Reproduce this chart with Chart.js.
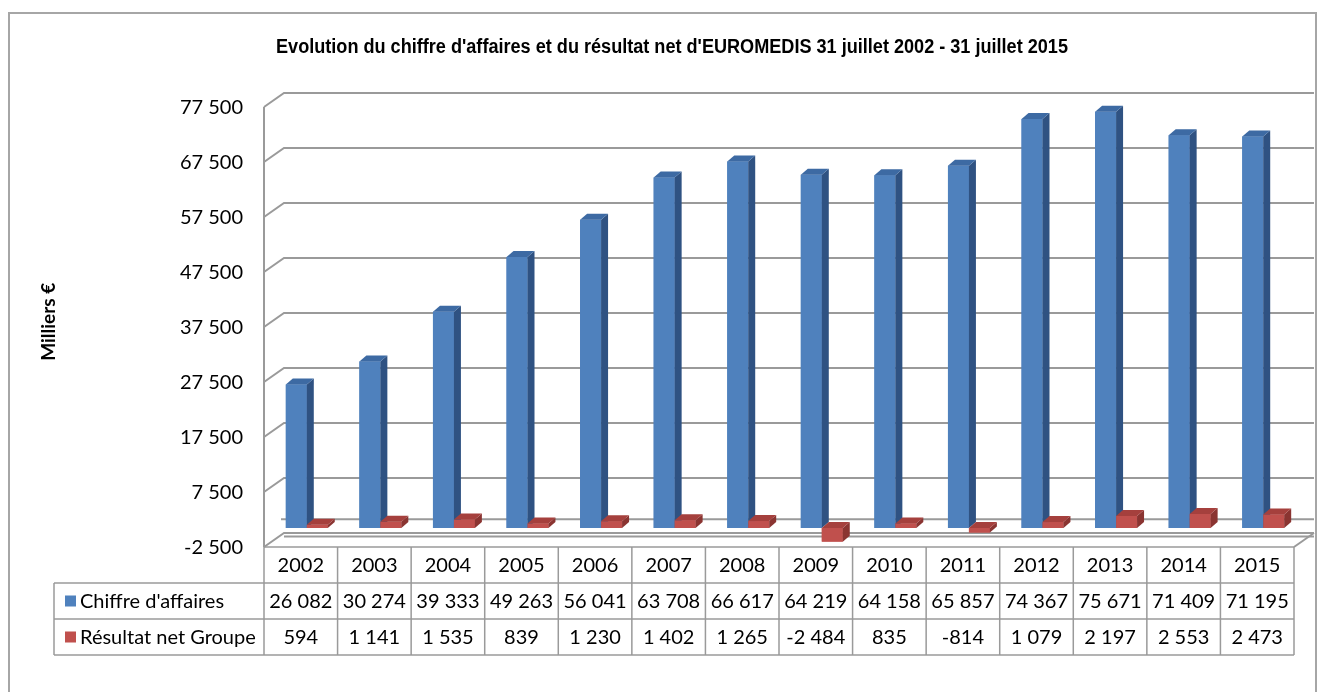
<!DOCTYPE html>
<html>
<head>
<meta charset="utf-8">
<script src="https://cdn.jsdelivr.net/npm/chart.js@4.4.0/dist/chart.umd.min.js"></script>
<style>
html,body{margin:0;padding:0;background:#ffffff;}
canvas{display:block;}
</style>
</head>
<body>
<canvas id="c" width="1324" height="692"></canvas>
<script>
// ---------- data ----------
const years = ['2002','2003','2004','2005','2006','2007','2008','2009','2010','2011','2012','2013','2014','2015'];
const chiffreAffaires = [26082, 30274, 39333, 49263, 56041, 63708, 66617, 64219, 64158, 65857, 74367, 75671, 71409, 71195];
const resultatNet = [594, 1141, 1535, 839, 1230, 1402, 1265, -2484, 835, -814, 1079, 2197, 2553, 2473];
const seriesNames = ["Chiffre d'affaires", "Résultat net Groupe"];
const yTickValues = [-2500, 7500, 17500, 27500, 37500, 47500, 57500, 67500, 77500];
const chartTitle = "Evolution du chiffre d'affaires et du résultat net d'EUROMEDIS 31 juillet 2002 - 31 juillet 2015";
const yAxisTitle = "Milliers €";

// ---------- styling ----------
const FONT = 'Lato, "Open Sans", sans-serif';
const TXT = 20;
const GRID = '#9a9a9a';
const FRONT = {dx: -6, dy: 5.25};   // front plane offset from bar plane
const BACK = {dx: 14, dy: -8.75};   // back wall offset from bar plane
const BAR_DEPTH = {dx: 7, dy: 6};

function fmt(v) {
  const s = Math.abs(Math.round(v)).toString().replace(/\B(?=(\d{3})+(?!\d))/g, '\u00A0');
  return (v < 0 ? '-' : '') + s;
}

const wallsPlugin = {
  id: 'walls',
  beforeDraw(chart) {
    const ctx = chart.ctx;
    ctx.save();
    ctx.fillStyle = '#ffffff';
    ctx.fillRect(0, 0, chart.width, chart.height);
    ctx.strokeStyle = '#a6a6a6';
    ctx.lineWidth = 2;
    ctx.strokeRect(9, 13, 1307, 700);
    // title (Arial-like bold, horizontally condensed like Arial Narrow)
    ctx.font = 'bold 20px "Liberation Sans", Arial, sans-serif';
    const w = ctx.measureText(chartTitle).width;
    const sx = 792 / w;
    ctx.translate(672, 47);
    ctx.scale(sx, 1);
    ctx.fillStyle = '#000';
    ctx.textAlign = 'center';
    ctx.textBaseline = 'middle';
    ctx.fillText(chartTitle, 0, 0);
    ctx.restore();
  },
  beforeDatasetsDraw(chart) {
    const ctx = chart.ctx;
    const ys = chart.scales.y;
    const ca = chart.chartArea;
    const fl = ca.left + FRONT.dx, fr = ca.right + FRONT.dx;
    const bl = ca.left + BACK.dx, br = ca.right + BACK.dx;
    ctx.save();
    ctx.strokeStyle = GRID;
    ctx.lineWidth = 2;
    ctx.lineCap = 'butt';
    ys.ticks.forEach(t => {
      const yb = ys.getPixelForValue(t.value);
      ctx.beginPath();
      ctx.moveTo(fl, yb + FRONT.dy);
      ctx.lineTo(bl, yb + BACK.dy);
      ctx.lineTo(br, yb + BACK.dy);
      ctx.stroke();
    });
    const y0 = ys.getPixelForValue(0);
    ctx.beginPath();
    ctx.moveTo(bl - 3, y0 + BACK.dy);
    ctx.lineTo(br, y0 + BACK.dy);
    ctx.stroke();
    const ymin = ys.getPixelForValue(ys.min);
    ctx.beginPath();
    ctx.moveTo(bl, ymin + BACK.dy + 3.5);
    ctx.lineTo(br, ymin + BACK.dy + 3.5);
    ctx.stroke();
    ctx.beginPath();
    ctx.moveTo(fr, ymin + FRONT.dy);
    ctx.lineTo(br, ymin + BACK.dy);
    ctx.stroke();
    const ymax = ys.getPixelForValue(ys.max);
    ctx.beginPath();
    ctx.moveTo(fl, ymax + FRONT.dy);
    ctx.lineTo(fl, ymin + FRONT.dy);
    ctx.stroke();
    ctx.restore();
  },
  afterDatasetsDraw(chart) {
    const ctx = chart.ctx;
    const n = years.length;
    for (let i = 0; i < n; i++) {
      chart.data.datasets.forEach((ds, di) => {
        const meta = chart.getDatasetMeta(di);
        const el = meta.data[i];
        if (!el) return;
        el.draw(ctx);
        const {x, y, base, width} = el.getProps(['x', 'y', 'base', 'width'], true);
        const l = x - width / 2, r = x + width / 2;
        const top = Math.min(y, base), bot = Math.max(y, base);
        ctx.save();
        ctx.fillStyle = ds.sideColor;
        ctx.beginPath();
        ctx.moveTo(r, top);
        ctx.lineTo(r + BAR_DEPTH.dx, top - BAR_DEPTH.dy);
        ctx.lineTo(r + BAR_DEPTH.dx, bot - BAR_DEPTH.dy);
        ctx.lineTo(r, bot);
        ctx.closePath();
        ctx.fill();
        ctx.fillStyle = ds.topColor;
        ctx.beginPath();
        ctx.moveTo(l, top);
        ctx.lineTo(l + BAR_DEPTH.dx, top - BAR_DEPTH.dy);
        ctx.lineTo(r + BAR_DEPTH.dx, top - BAR_DEPTH.dy);
        ctx.lineTo(r, top);
        ctx.closePath();
        ctx.fill();
        ctx.restore();
      });
    }
  },
  afterDraw(chart) {
    const ctx = chart.ctx;
    const ca = chart.chartArea;
    const xs = chart.scales.x;
    const ys = chart.scales.y;
    const n = years.length;
    const colW = (ca.right - ca.left) / n;
    const left = ca.left + FRONT.dx;
    const right = ca.right + FRONT.dx;
    const top = ys.getPixelForValue(ys.min) + FRONT.dy;
    const rowH = 36;
    const legLeft = 54;
    ctx.save();
    ctx.strokeStyle = GRID;
    ctx.lineWidth = 1.5;
    ctx.beginPath();
    ctx.moveTo(left, top); ctx.lineTo(right, top);
    for (let r = 1; r <= 3; r++) {
      ctx.moveTo(legLeft, top + r * rowH); ctx.lineTo(right, top + r * rowH);
    }
    for (let i = 0; i <= n; i++) {
      const xx = left + i * colW;
      ctx.moveTo(xx, top); ctx.lineTo(xx, top + 3 * rowH);
    }
    ctx.moveTo(legLeft, top + rowH); ctx.lineTo(legLeft, top + 3 * rowH);
    ctx.stroke();

    ctx.fillStyle = '#000';
    ctx.font = `${TXT}px ${FONT}`;
    ctx.textAlign = 'center';
    ctx.textBaseline = 'middle';
    const rows = [chiffreAffaires, resultatNet];
    for (let i = 0; i < n; i++) {
      const cx = xs.getPixelForValue(i) + FRONT.dx;
      ctx.fillText(years[i], cx, top + rowH * 0.5 + 1);
      rows.forEach((arr, r) => {
        ctx.fillText(fmt(arr[i]), cx, top + rowH * (r + 1.5) + 1);
      });
    }
    ctx.textAlign = 'left';
    chart.data.datasets.forEach((ds, r) => {
      const cy = top + rowH * (r + 1.5);
      ctx.fillStyle = ds.backgroundColor;
      ctx.fillRect(65, cy - 5.5, 11, 11);
      ctx.fillStyle = '#000';
      ctx.fillText(ds.label, 80, cy + 1);
    });
    ctx.restore();
  }
};

function build() {
  new Chart(document.getElementById('c'), {
    type: 'bar',
    data: {
      labels: years,
      datasets: [
        {
          label: seriesNames[0],
          data: chiffreAffaires,
          backgroundColor: '#4F81BD',
          sideColor: '#2F5282',
          topColor: '#3D6AA3',
          borderWidth: 0,
          categoryPercentage: 0.57,
          barPercentage: 1.0
        },
        {
          label: seriesNames[1],
          data: resultatNet,
          backgroundColor: '#C0504D',
          sideColor: '#8A3431',
          topColor: '#A5403D',
          borderWidth: 0,
          categoryPercentage: 0.57,
          barPercentage: 1.0
        }
      ]
    },
    options: {
      responsive: false,
      animation: false,
      devicePixelRatio: 1,
      layout: {padding: {left: 28, right: 24, top: 101.75, bottom: 150.25}},
      plugins: {
        legend: {display: false},
        title: {display: false},
        tooltip: {enabled: false}
      },
      scales: {
        x: {display: false},
        y: {
          min: -2500,
          max: 77500,
          afterBuildTicks: (s) => { s.ticks = yTickValues.map(v => ({value: v})); },
          afterFit: (s) => { s.width = 242; },
          grid: {display: false, drawTicks: false},
          border: {display: false},
          ticks: {
            padding: 27,
            labelOffset: 6,
            color: '#000',
            font: {family: FONT, size: TXT},
            callback: (v) => fmt(v)
          },
          title: {
            display: true,
            text: yAxisTitle,
            color: '#000',
            font: {family: FONT, size: 19, weight: 'bold'},
            padding: {top: 9, bottom: 0}
          }
        }
      }
    },
    plugins: [wallsPlugin]
  });
}

Promise.all([
  document.fonts.load('20px Lato'),
  document.fonts.load('bold 19px Lato'),
  document.fonts.load('bold 20px "Liberation Sans"')
]).then(build, build);
</script>
</body>
</html>
